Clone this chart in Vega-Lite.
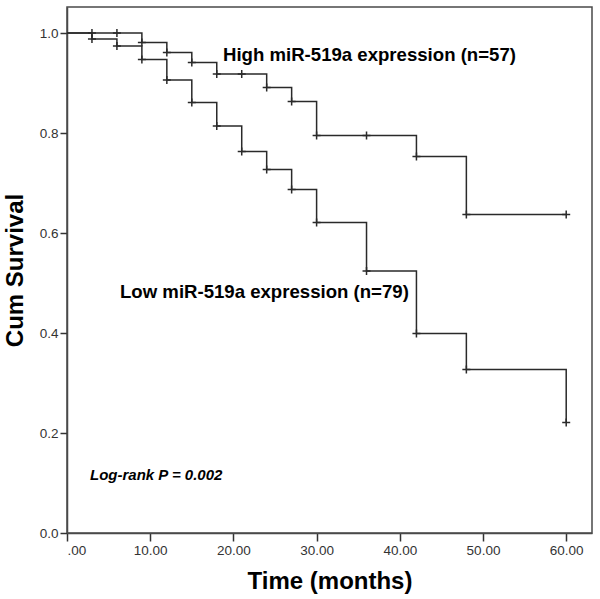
{
  "$schema": "https://vega.github.io/schema/vega-lite/v6.json",
  "width": 525,
  "height": 526,
  "autosize": {"type": "none"},
  "padding": {"left": 67, "top": 7, "right": 8, "bottom": 66},
  "background": "white",
  "config": {
    "view": {"stroke": "#4a4a4a", "strokeWidth": 1.5},
    "font": "Liberation Sans",
    "axis": {"grid": false, "domainColor": "#4a4a4a", "domainWidth": 1.5, "tickColor": "#333", "tickWidth": 1.5,
             "labelFont": "Liberation Sans", "labelFontSize": 13.5, "labelColor": "#333",
             "titleFont": "Liberation Sans", "titleFontSize": 24, "titleFontWeight": "bold", "titleColor": "#000"}
  },
  "datasets": {
    "km": [
      {"group": "High", "time": 0, "surv": 1.0},
      {"group": "High", "time": 3, "surv": 1.0},
      {"group": "High", "time": 6, "surv": 1.0},
      {"group": "High", "time": 9, "surv": 0.981},
      {"group": "High", "time": 12, "surv": 0.961},
      {"group": "High", "time": 15, "surv": 0.941},
      {"group": "High", "time": 18, "surv": 0.918},
      {"group": "High", "time": 21, "surv": 0.918},
      {"group": "High", "time": 24, "surv": 0.891},
      {"group": "High", "time": 27, "surv": 0.863},
      {"group": "High", "time": 30, "surv": 0.795},
      {"group": "High", "time": 36, "surv": 0.795},
      {"group": "High", "time": 42, "surv": 0.753},
      {"group": "High", "time": 48, "surv": 0.637},
      {"group": "High", "time": 60, "surv": 0.637},
      {"group": "Low", "time": 0, "surv": 1.0},
      {"group": "Low", "time": 3, "surv": 0.988},
      {"group": "Low", "time": 6, "surv": 0.974},
      {"group": "Low", "time": 9, "surv": 0.947},
      {"group": "Low", "time": 12, "surv": 0.906},
      {"group": "Low", "time": 15, "surv": 0.861},
      {"group": "Low", "time": 18, "surv": 0.814},
      {"group": "Low", "time": 21, "surv": 0.763},
      {"group": "Low", "time": 24, "surv": 0.727},
      {"group": "Low", "time": 27, "surv": 0.687},
      {"group": "Low", "time": 30, "surv": 0.621},
      {"group": "Low", "time": 36, "surv": 0.524},
      {"group": "Low", "time": 42, "surv": 0.399},
      {"group": "Low", "time": 48, "surv": 0.327},
      {"group": "Low", "time": 60, "surv": 0.221}
    ],
    "notes": [
      {"label": "High miR-519a expression (n=57)", "time": 18.75, "surv": 0.956, "kind": "group"},
      {"label": "Low miR-519a expression (n=79)", "time": 6.37, "surv": 0.483, "kind": "group"},
      {"label": "Log-rank P = 0.002", "time": 2.76, "surv": 0.116, "kind": "stat"}
    ]
  },
  "layer": [
    {
      "data": {"name": "km"},
      "mark": {"type": "line", "interpolate": "step-after", "color": "#2a2a2a", "strokeWidth": 1.5},
      "encoding": {
        "x": {"field": "time", "type": "quantitative",
              "scale": {"domain": [0, 63.1], "nice": false, "zero": false},
              "axis": {"title": "Time (months)", "values": [0, 10, 20, 30, 40, 50, 60],
                       "labelExpr": "datum.value == 0 ? '.00' : format(datum.value, '.2f')",
                       "tickSize": 8, "labelPadding": 2, "titlePadding": 13}},
        "y": {"field": "surv", "type": "quantitative",
              "scale": {"domain": [0, 1.052], "nice": false},
              "axis": {"title": "Cum Survival", "values": [0, 0.2, 0.4, 0.6, 0.8, 1.0], "format": ".1f",
                       "tickSize": 7, "labelPadding": 2, "titlePadding": 12}},
        "detail": {"field": "group"}
      }
    },
    {
      "data": {"name": "km"},
      "transform": [{"filter": "datum.time > 0"}],
      "mark": {"type": "point", "shape": "M-1,0L1,0M0,-1L0,1", "filled": false, "stroke": "#2a2a2a", "strokeWidth": 1.5, "size": 64, "opacity": 1},
      "encoding": {
        "x": {"field": "time", "type": "quantitative"},
        "y": {"field": "surv", "type": "quantitative"}
      }
    },
    {
      "data": {"name": "notes"},
      "transform": [{"filter": "datum.kind == 'group'"}],
      "mark": {"type": "text", "align": "left", "baseline": "middle", "fontSize": 18.6, "fontWeight": "bold", "font": "Liberation Sans", "color": "#000"},
      "encoding": {
        "x": {"field": "time", "type": "quantitative"},
        "y": {"field": "surv", "type": "quantitative"},
        "text": {"field": "label"}
      }
    },
    {
      "data": {"name": "notes"},
      "transform": [{"filter": "datum.kind == 'stat'"}],
      "mark": {"type": "text", "align": "left", "baseline": "middle", "fontSize": 15, "fontWeight": "bold", "fontStyle": "italic", "font": "Liberation Sans", "color": "#000"},
      "encoding": {
        "x": {"field": "time", "type": "quantitative"},
        "y": {"field": "surv", "type": "quantitative"},
        "text": {"field": "label"}
      }
    }
  ]
}
